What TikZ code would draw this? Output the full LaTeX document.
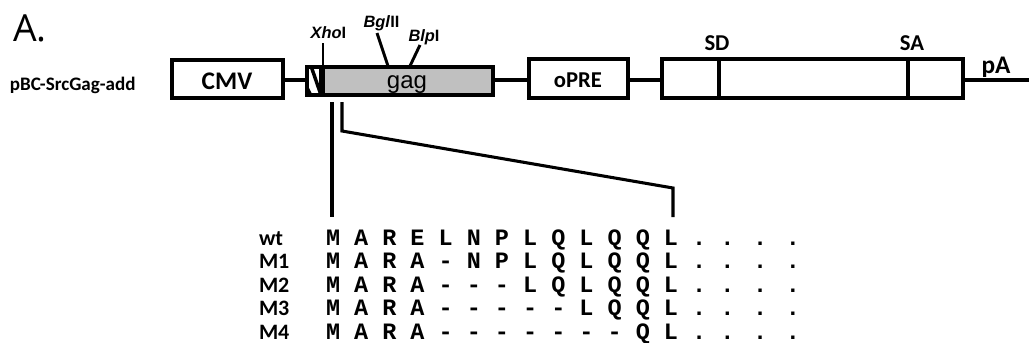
\documentclass[tikz,border=0pt]{standalone}
\usepackage{fontspec}
\setmainfont{Carlito}[Numbers=Lining]
\newfontfamily\arialf{Liberation Sans}
\newfontfamily\monof{Liberation Mono}
\newfontfamily\opensans{Open Sans}
\definecolor{gaggray}{RGB}{192,192,192}
\begin{document}
\begin{tikzpicture}[x=0.75pt,y=-0.75pt,
  box/.style={draw, line width=3pt, inner sep=0pt, outer sep=0pt, fill=white},
  lbl/.style={inner sep=0pt, outer sep=0pt},
  conn/.style={line width=2.3pt},
  site/.style={line width=2.2pt},
  seq/.style={inner sep=0pt, outer sep=0pt, anchor=base west, font=\monof\bfseries\fontsize{17.6}{20}\selectfont},
  rowlbl/.style={inner sep=0pt, outer sep=0pt, anchor=base west, font=\bfseries\fontsize{16.5}{18}\selectfont},
  bold17/.style={font=\bfseries\fontsize{17}{20}\selectfont},
  sitelbl/.style={inner sep=0pt, outer sep=0pt, font=\arialf\bfseries\fontsize{12.3}{14}\selectfont}
]
\useasboundingbox (0,0) rectangle (1029,343);

% title and construct name
\node[lbl, anchor=base west, font=\opensans\fontsize{28}{30}\selectfont] (title) at (13,41.5) {A.};
\node[lbl, anchor=base west, font=\bfseries\fontsize{14.3}{16}\selectfont] (name) at (10,90) {pBC-SrcGag-add};

% boxes
\node[box, minimum width=83.25pt, minimum height=28.5pt] (cmv) at (227.5,78.5) {};
\node[lbl, anchor=base, font=\bfseries\fontsize{19}{22}\selectfont] (cmvlbl) at (227,89) {CMV};
\node[box, minimum width=10.5pt, minimum height=21pt] (hatch) at (314,81) {};
\node[box, fill=gaggray, minimum width=127.5pt, minimum height=21pt] (gag) at (408,81) {};
\node[lbl, anchor=base, font=\arialf\fontsize{18}{20}\selectfont] (gaglbl) at (407,88) {gag};
\node[box, minimum width=74.25pt, minimum height=29.25pt] (opre) at (578.5,78.5) {};
\node[lbl, anchor=base, bold17] (oprelbl) at (578,87) {oPRE};
\node[box, minimum width=225.75pt, minimum height=29.25pt] (big) at (812.5,78.5) {};

% hatch decoration
\begin{scope}
  \clip (hatch.south west) rectangle (hatch.north east);
  \draw[line width=2.6pt] (311,66) -- (321,95);
  \fill (307,84) -- (313,96) -- (307,96) -- cycle;
\end{scope}
\draw[line width=3pt] (hatch.north west) rectangle (gag.south east);
\draw[line width=3pt] (hatch.north east) -- (hatch.south east);

% SD / SA dividers
\coordinate (sdtop) at (719,59);
\coordinate (sdbot) at (719,98);
\coordinate (satop) at (908,59);
\coordinate (sabot) at (908,98);
\draw[line width=3pt] (sdtop) -- (sdbot);
\draw[line width=3pt] (satop) -- (sabot);

% backbone
\coordinate (endpa) at (1029,80);
\draw[conn] (cmv.east |- 0,80) -- (hatch.west |- 0,80);
\draw[conn] (gag.east |- 0,80) -- (opre.west |- 0,80);
\draw[conn] (opre.east |- 0,80) -- (big.west |- 0,80);
\draw[conn] (big.east |- 0,80) -- (endpa);

% labels over big box
\node[lbl, anchor=base, bold17] (sd) at (717,50.5) {SD};
\node[lbl, anchor=base, bold17] (sa) at (912,50.5) {SA};
\node[lbl, anchor=base, font=\bfseries\fontsize{19}{22}\selectfont] (pa) at (996,73) {pA};

% restriction sites
\node[sitelbl] (xho) at (328.5,33) {\textit{Xho}I};
\node[sitelbl] (bgl) at (381.5,23) {\textit{Bgl}II};
\node[sitelbl] (blp) at (424,37) {\textit{Blp}I};
\coordinate (xhofoot) at (323,66);
\coordinate (xhotop) at (323,43);
\coordinate (bglfoot) at (388,66);
\coordinate (bgltop) at (377,33);
\coordinate (blpfoot) at (410,66);
\coordinate (blptop) at (420,45);
\draw[site] (xhotop) -- (xhofoot);
\draw[site] (bgltop) -- (bglfoot);
\draw[site] (blptop) -- (blpfoot);

% zoom lines
\coordinate (zl1) at (332,102);
\coordinate (zl2) at (332,217);
\coordinate (zr1) at (342,102);
\coordinate (zr2) at (342,131);
\coordinate (zr3) at (673,188);
\coordinate (zr4) at (673,217);
\draw[conn] (zl1) -- (zl2);
\draw[conn] (zr1) -- (zr2) -- (zr3) -- (zr4);

% sequences
\node[rowlbl] (lwt) at (259,245) {wt};
\node[rowlbl] (lm1) at (259,268.5) {M1};
\node[rowlbl] (lm2) at (259,292) {M2};
\node[rowlbl] (lm3) at (259,315.5) {M3};
\node[rowlbl] (lm4) at (259,339) {M4};
\node[seq] (swt) at (326,245) {M A R E L N P L Q L Q Q L . . . .};
\node[seq] (sm1) at (326,268.5) {M A R A - N P L Q L Q Q L . . . .};
\node[seq] (sm2) at (326,292) {M A R A - - - L Q L Q Q L . . . .};
\node[seq] (sm3) at (326,315.5) {M A R A - - - - - L Q Q L . . . .};
\node[seq] (sm4) at (326,339) {M A R A - - - - - - - Q L . . . .};
\end{tikzpicture}
\end{document}
